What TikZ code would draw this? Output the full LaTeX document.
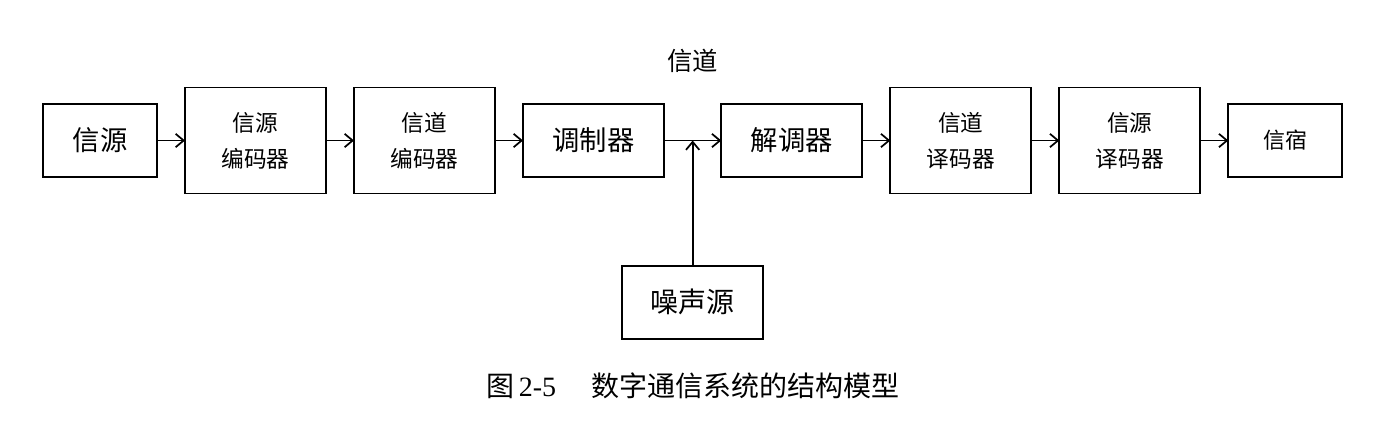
\documentclass[tikz,border=0pt]{standalone}
\usepackage{fontspec}
\setmainfont{Liberation Serif}
\newfontfamily\cjk{Noto Sans CJK SC}
\usepackage{tikz}
\usetikzlibrary{positioning, arrows.meta, calc}

\begin{document}
\begin{tikzpicture}[node distance=21pt]
        % Define block styles
        \tikzstyle{block} = [rectangle, draw, line width=1.3pt, inner sep=0pt, outer sep=0pt,
                             align=center, minimum width=105.75pt, minimum height=54.75pt,
                             font=\cjk\fontsize{20.5}{24}\selectfont]
        \tikzstyle{tallblock} = [block, minimum height=79.5pt, font=\cjk\fontsize{17}{27}\selectfont]
        \tikzstyle{endblock} = [block, minimum width=85.5pt]
        \tikzstyle{arrow} = [line width=1.3pt,-{Straight Barb[length=6pt,width=10pt]}]
        \useasboundingbox (0,0) rectangle (1050pt,-317.25pt);

        % Blocks in a horizontal line
        \node (source) [endblock] at (75pt,-105.4pt) {信源};
        \node (srcenc) [tallblock, right=of source] {信源\\编码器};
        \node (chenc) [tallblock, right=of srcenc] {信道\\编码器};
        \node (mod) [block, right=of chenc] {调制器};
        \node (demod) [block, right=43pt of mod] {解调器};
        \node (chdec) [tallblock, right=of demod] {信道\\译码器};
        \node (srcdec) [tallblock, right=of chdec] {信源\\译码器};
        \node (sink) [endblock, right=of srcdec, font=\cjk\fontsize{16.5}{20}\selectfont] {信宿};

        % Channel and noise
        \coordinate (junc) at ($(mod.east)!0.5!(demod.west)$);
        \node (channel) [above=51pt of junc, inner sep=0pt, font=\cjk\fontsize{19}{22}\selectfont] {信道};
        \node (noise) [block, below=94pt of junc, anchor=north, font=\cjk\fontsize{21}{24}\selectfont] {噪声源};
        \node (caption) [below=25pt of noise, inner sep=0pt, font=\fontsize{21}{24}\selectfont]
             {{\cjk 图}\,2-5\quad\ {\cjk 数字通信系统的结构模型}};

        % Arrows
        \draw [arrow] (source) -- (srcenc);
        \draw [arrow] (srcenc) -- (chenc);
        \draw [arrow] (chenc) -- (mod);
        \draw [arrow] (mod) -- (demod);
        \draw [arrow] (noise) -- (junc);
        \draw [arrow] (demod) -- (chdec);
        \draw [arrow] (chdec) -- (srcdec);
        \draw [arrow] (srcdec) -- (sink);
    \end{tikzpicture}
\end{document}
